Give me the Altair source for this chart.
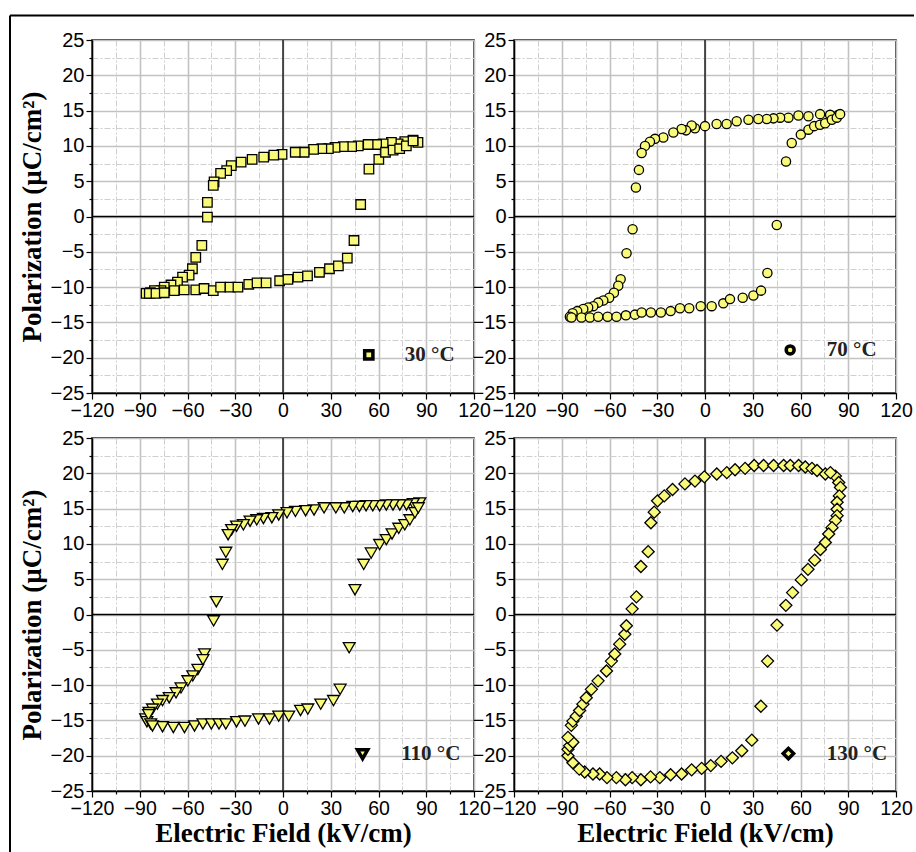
import altair as alt
import pandas as pd

# ---------------- data ----------------
E30 = [84.8, 81.7, 76.5, 72.3, 68.1, 62.9, 58.8, 53.5, 47.3, 43.1,
       37.9, 32.7, 28.5, 24.4, 19.2, 13.3, 7.7, -0.6, -5.8, -12.1,
       -19.4, -26.3, -32.5, -35.4, -39.2, -43.3, -43.8, -47.5, -47.5, -51.0,
       -54.8, -56.9, -59.0, -63.1, -66.3, -70.4, -74.6, -76.7, -80.8, -83.3,
       -86.0,
       -84.0, -79.8, -74.6, -68.3, -62.1, -54.8, -49.6, -43.8, -39.2, -33.3,
       -28.3, -21.5, -16.3, -10.6, -2.1, 3.1, 9.4, 15.4, 22.9, 29.2,
       34.8, 40.4, 44.6, 48.8, 54.0, 60.2, 64.4, 69.2, 73.3, 77.5,
       81.7]
P30 = [10.5, 10.8, 10.6, 10.3, 10.5, 10.3, 10.2, 10.2, 10.0, 9.9,
       9.9, 9.8, 9.6, 9.6, 9.5, 9.1, 9.1, 8.8, 8.7, 8.4,
       8.1, 7.7, 7.2, 6.5, 6.1, 4.9, 4.4, 2.0, -0.1, -4.1,
       -5.8, -7.4, -8.3, -8.6, -9.3, -9.7, -10.0, -10.5, -10.5, -10.8,
       -10.9,
       -10.9, -10.9, -10.8, -10.5, -10.4, -10.4, -10.2, -10.5, -10.0, -10.0,
       -10.0, -9.6, -9.4, -9.4, -9.1, -8.9, -8.6, -8.4, -7.9, -7.4,
       -7.0, -5.9, -3.4, 1.7, 6.7, 8.1, 9.1, 9.4, 9.6, 10.0,
       10.7]

E70 = [83.9, 78.6, 72.3, 65.0, 58.7, 52.4, 47.2, 43.0, 38.8, 33.5,
       27.3, 19.9, 13.6, 7.3, 0.0, -6.3, -8.4, -11.9, -14.7, -19.9,
       -26.2, -31.4, -34.6, -37.7, -39.8, -41.5, -43.4, -45.5, -49.3, -53.0,
       -54.5, -57.2, -60.2, -63.9, -67.1, -70.2, -73.4, -76.5, -80.3, -83.2,
       -84.9,
       -83.9, -77.6, -72.3, -67.1, -61.2, -55.6, -49.7, -44.0, -39.8, -34.0,
       -27.7, -21.6, -15.7, -9.9, -2.7, 4.2, 11.5, 15.7, 23.7, 30.4,
       35.2, 39.2, 45.1, 50.9, 54.5, 60.2, 65.0, 68.6, 72.3, 75.5,
       79.7, 82.8, 84.9]
P70 = [14.4, 14.4, 14.5, 14.2, 14.3, 14.0, 14.0, 13.9, 13.8, 13.8,
       13.7, 13.5, 13.1, 13.1, 12.8, 12.5, 12.9, 12.2, 12.4, 11.9,
       11.2, 11.0, 10.6, 10.0, 9.0, 6.6, 4.1, -1.8, -5.2, -8.9,
       -9.8, -10.8, -11.5, -11.9, -12.2, -12.7, -12.9, -13.1, -13.4, -13.7,
       -14.2,
       -14.3, -14.3, -14.3, -14.2, -14.2, -14.2, -14.0, -13.9, -13.6, -13.6,
       -13.6, -13.4, -13.0, -13.0, -12.7, -12.7, -12.3, -11.7, -11.5, -11.2,
       -10.5, -8.0, -1.2, 7.8, 10.4, 11.6, 12.3, 12.8, 13.0, 13.2,
       13.7, 14.0, 14.5]

E110 = [86.0, 81.8, 77.6, 73.4, 69.1, 64.9, 60.7, 56.4, 52.2, 48.0,
        43.8, 38.5, 33.2, 25.8, 19.5, 14.2, 7.8, 2.5, -2.7, -7.0,
        -12.3, -16.5, -20.7, -24.9, -29.2, -32.3, -34.5, -35.9, -38.1, -41.9,
        -43.6, -49.3, -50.3, -53.5, -56.7, -59.8, -64.1, -67.2, -71.5, -75.7,
        -78.9, -82.0, -84.2, -86.3, -85.5, -84.5,
        -83.1, -75.7, -68.9, -61.9, -55.6, -50.3, -45.0, -40.2, -35.9, -29.2,
        -23.9, -15.4, -8.5, -2.7, 3.6, 11.0, 15.6, 23.7, 31.7, 35.9,
        41.6, 45.2, 50.7, 55.4, 60.7, 64.9, 68.5, 72.7, 76.5, 79.7,
        82.9, 85.0, -82.0]
P110 = [15.8, 15.7, 15.5, 15.5, 15.5, 15.5, 15.4, 15.4, 15.4, 15.3,
        15.3, 15.1, 15.1, 15.1, 14.8, 14.7, 14.6, 14.4, 14.1, 13.7,
        13.6, 13.4, 13.2, 12.7, 12.5, 12.0, 11.3, 8.8, 7.1, 1.8,
        -0.9, -5.6, -6.4, -7.8, -8.7, -9.4, -10.4, -11.1, -11.8, -12.2,
        -12.7, -13.4, -13.9, -14.8, -15.2, -14.2,
        -15.5, -15.9, -16.0, -16.0, -15.8, -15.5, -15.5, -15.5, -15.5, -15.2,
        -15.1, -14.8, -14.8, -14.4, -14.4, -13.6, -13.4, -12.7, -12.2, -10.6,
        -4.7, 3.5, 7.1, 8.7, 9.9, 10.6, 11.4, 12.2, 12.7, 13.4,
        14.4, 15.1, -15.8]

E130 = [81.9, 84.0, 85.1, 84.4, 83.0, 83.0, 83.0, 81.9, 79.8, 77.7,
        75.6, 72.5, 68.9, 64.7, 60.5, 55.0, 50.8, 45.2, 39.3, 35.1,
        29.4, 23.1, 17.2, 10.1, 3.6, -2.1, -8.4, -14.7, -21.6, -28.4,
        -34.2, -40.3, -45.8, -50.0, -55.7, -61.6, -66.2, -70.4, -75.6, -83.0,
        -86.1, -86.1, -85.0, -83.0, -86.1, -79.0,
        -84.0, -83.0, -80.9, -78.8, -76.7, -74.6, -71.4, -67.2, -61.9, -58.8,
        -56.7, -53.6, -50.4, -49.4, -45.8, -43.1, -40.3, -35.7, -34.0, -31.9,
        -29.8, -25.6, -20.4, -12.6, -6.3, -0.4, 7.4, 13.7, 18.9, 25.2,
        30.9, 36.8, 43.1, 49.4, 53.6, 58.8, 63.0, 67.2, 70.4, 75.6,
        78.8]
P130 = [19.6, 18.7, 18.0, 16.8, 15.9, 14.9, 14.0, 13.3, 12.3, 11.4,
        10.2, 9.2, 7.7, 6.4, 4.9, 3.1, 1.3, -1.5, -6.6, -13.0,
        -17.8, -19.3, -20.3, -20.8, -21.4, -21.8, -22.0, -22.6, -22.7, -23.1,
        -23.0, -23.4, -23.1, -23.4, -23.1, -23.1, -22.6, -22.6, -22.3, -21.0,
        -20.0, -19.1, -18.6, -18.1, -17.4, -21.9,
        -15.7, -15.1, -14.4, -13.6, -12.7, -11.8, -10.6, -9.4, -8.0, -6.6,
        -5.6, -4.2, -2.8, -1.6, 0.8, 2.5, 6.8, 8.9, 13.0, 14.5,
        16.1, 16.8, 17.7, 18.5, 18.9, 19.5, 19.9, 20.1, 20.5, 20.7,
        21.1, 21.1, 21.1, 21.1, 21.1, 21.1, 20.9, 20.7, 20.4, 19.9,
        20.1]

labels = ["30 °C", "70 °C", "110 °C", "130 °C"]
legend_E = [53.9, 53.5, 50.0, 52.4]
legend_P = [-19.6, -18.9, -19.8, -19.7]
legend_text_E = [76.5, 76.5, 74.3, 76.5]

x_ticks = list(range(-120, 121, 15))
y_ticks = [v * 2.5 for v in range(-10, 11)]

# ---------------- styling ----------------
FILL = "#f9f97a"
W, H = 382, 353


def x_axis():
    return alt.Axis(
        values=x_ticks,
        labelExpr="datum.value % 30 === 0 ? datum.label : ''",
        labelOverlap=False, labelFlush=False,
        labelFont="Liberation Sans", labelFontSize=19.5, labelColor="black",
        labelPadding=2,
        tickSize={"condition": {"test": "datum.value % 30 === 0", "value": 6}, "value": 3},
        tickColor="black", tickWidth=1.2,
        domainColor="black", domainWidth=1.5,
        grid=True,
        gridColor={"condition": {"test": "datum.value % 30 === 0", "value": "#c2c2c2"}, "value": "#cfcfcf"},
        gridWidth={"condition": {"test": "datum.value % 30 === 0", "value": 1.6}, "value": 1.0},
        gridDash={"condition": {"test": "datum.value % 30 === 0", "value": [1, 0]}, "value": [6, 2, 2, 2]},
        titleFont="Liberation Serif", titleFontSize=27, titleFontWeight="bold",
        titleColor="black", titlePadding=3,
    )


def y_axis():
    return alt.Axis(
        values=y_ticks,
        labelExpr="datum.value % 5 === 0 ? datum.label : ''",
        labelOverlap=False, labelFlush=False,
        labelFont="Liberation Sans", labelFontSize=20, labelColor="black",
        labelPadding=2,
        tickSize={"condition": {"test": "datum.value % 5 === 0", "value": 6}, "value": 3},
        tickColor="black", tickWidth=1.2,
        domainColor="black", domainWidth=1.5,
        grid=True,
        gridColor={"condition": {"test": "datum.value % 5 === 0", "value": "#c2c2c2"}, "value": "#cfcfcf"},
        gridWidth={"condition": {"test": "datum.value % 5 === 0", "value": 1.6}, "value": 1.0},
        gridDash={"condition": {"test": "datum.value % 5 === 0", "value": [1, 0]}, "value": [6, 2, 2, 2]},
        titleFont="Liberation Serif", titleFontSize=27, titleFontWeight="bold",
        titleColor="black", titlePadding=4,
    )


xscale = alt.Scale(domain=[-120, 120], nice=False, zero=False)
yscale = alt.Scale(domain=[-25, 25], nice=False, zero=False)


def panel(E, P, shape, size, i, ytitle, xtitle, frame=False):
    def X():
        return alt.X("E:Q", scale=xscale, axis=x_axis(), title=xtitle)

    def Y():
        return alt.Y("P:Q", scale=yscale, axis=y_axis(), title=ytitle)

    zero_v = alt.Chart(pd.DataFrame({"E": [0.0]})).mark_rule(
        color="black", strokeWidth=1.3).encode(x=X())
    zero_h = alt.Chart(pd.DataFrame({"P": [0.0]})).mark_rule(
        color="black", strokeWidth=1.3).encode(y=Y())
    pts = alt.Chart(pd.DataFrame({"E": E, "P": P})).mark_point(
        shape=shape, size=size, filled=True, fill=FILL, stroke="black",
        strokeWidth=1.3, opacity=1).encode(x=X(), y=Y())
    leg = alt.Chart(pd.DataFrame({"E": [legend_E[i]], "P": [legend_P[i]]})).mark_point(
        shape=shape, size=size * 0.75, filled=True, fill=FILL, stroke="black",
        strokeWidth=3.5, opacity=1).encode(x=X(), y=Y())
    txt = alt.Chart(pd.DataFrame({"E": [legend_text_E[i]], "P": [legend_P[i]],
                                  "t": [labels[i]]})).mark_text(
        align="left", baseline="middle", font="Liberation Serif", fontSize=21,
        fontWeight="bold", color="#222222").encode(x=X(), y=Y(), text="t:N")
    layers = [zero_v, zero_h, pts, leg, txt]
    if frame:
        one = pd.DataFrame({"d": [0]})
        fv = alt.Chart(one).mark_rule(color="black", strokeWidth=2).encode(
            x=alt.value(-82), y=alt.value(-24.5), y2=alt.value(812.5))
        fh = alt.Chart(one).mark_rule(color="black", strokeWidth=2).encode(
            x=alt.value(-82), x2=alt.value(822), y=alt.value(-24.5))
        layers += [fv, fh]
    return alt.layer(*layers).properties(width=W, height=H)


ytitle = "Polarization (µC/cm²)"
xtitle = "Electric Field (kV/cm)"

p1 = panel(E30, P30, "square", 90, 0, ytitle, None, frame=True)
p2 = panel(E70, P70, "circle", 85, 1, None, None)
p3 = panel(E110, P110, "triangle-down", 140, 2, ytitle, xtitle)
p4 = panel(E130, P130, "diamond", 145, 3, None, xtitle)

chart = alt.concat(
    p1, p2, p3, p4, columns=2, spacing={"row": 45, "column": 40}, bounds="flush"
).properties(
    padding={"left": 8, "top": 13, "right": 0, "bottom": 0},
    background="white",
).configure_view(stroke="black", strokeWidth=1.5)

chart.save("out.html", embed_options={"renderer": "svg", "actions": False})
